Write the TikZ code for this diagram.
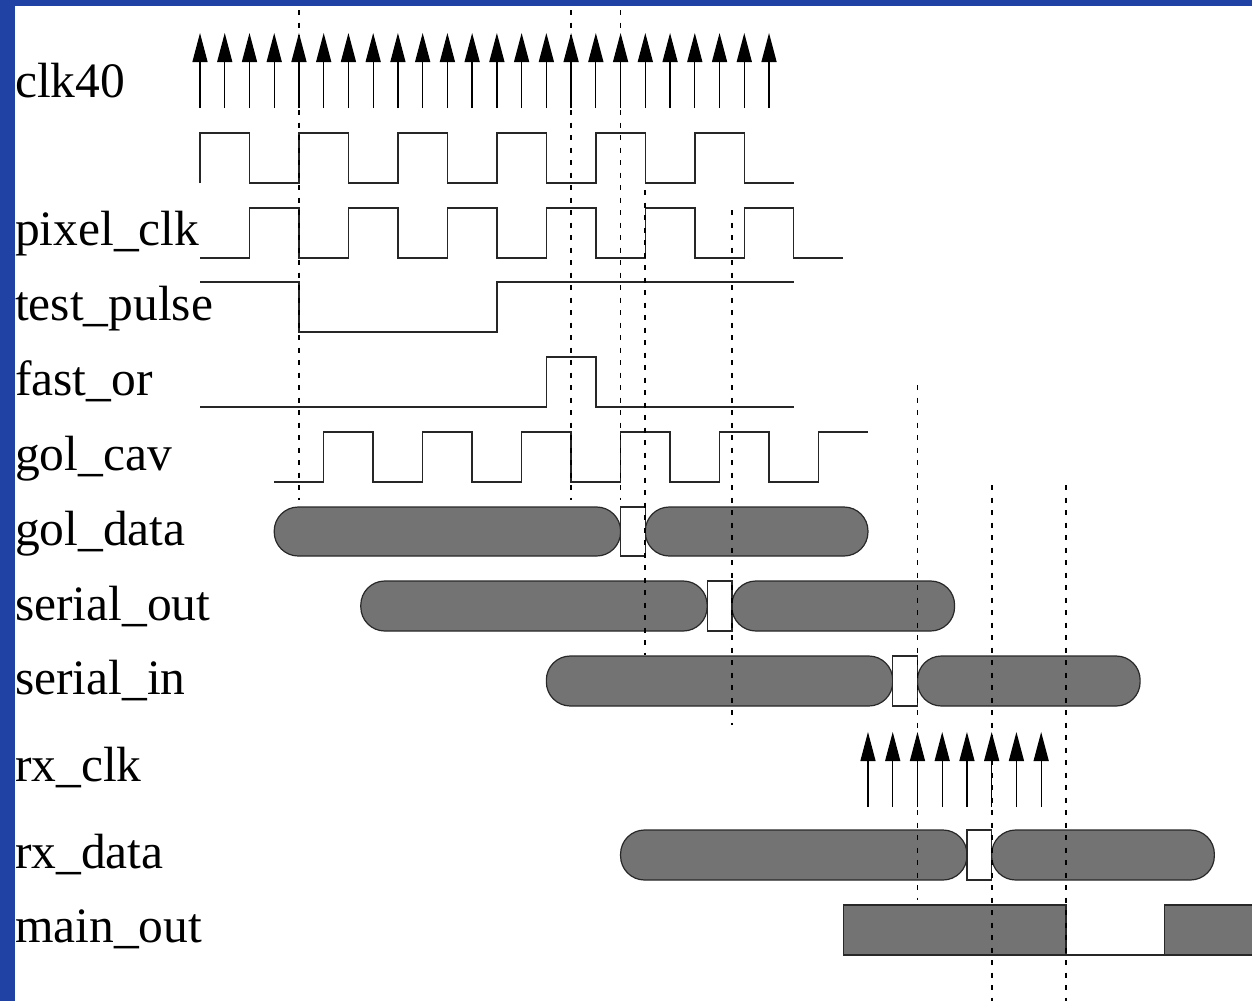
\documentclass[tikz,border=0pt]{standalone}
\usepackage{fontspec}
\setmainfont{Liberation Serif}
\usetikzlibrary{arrows.meta}
\definecolor{slideblue}{RGB}{33,66,165}
\definecolor{busgray}{RGB}{115,115,115}
\definecolor{busline}{RGB}{40,40,40}
\begin{document}
\begin{tikzpicture}[x=1pt,y=-1pt,
  lbl/.style={anchor=base west, inner sep=0pt, font=\fontsize{49.5}{55}\selectfont},
  sig/.style={line width=1.4pt, black!85},
  bus/.style={fill=busgray, draw=busline, line width=1.2pt, rounded corners=24pt},
  gapbox/.style={fill=white, draw=busline, line width=1.2pt},
  clkarr/.style={line width=1.3pt, -{Triangle[length=29pt,width=15pt]}},
  vline/.style={line width=1.7pt, dash pattern=on 5pt off 7.5pt}]
\useasboundingbox (0,0) rectangle (1252,1001);
\fill[white] (0,0) rectangle (1252,1001);
\fill[slideblue] (0,0) rectangle (1252,6);
\fill[slideblue] (0,0) rectangle (15,1001);

% labels
\node[lbl] (lclk40) at (15,97) {clk40};
\node[lbl] (lpix) at (15,245) {pixel\_clk};
\node[lbl] (ltest) at (15,320) {test\_pulse};
\node[lbl] (lfast) at (15,395) {fast\_or};
\node[lbl] (lcav) at (15,470) {gol\_cav};
\node[lbl] (lgold) at (15,545) {gol\_data};
\node[lbl] (lsout) at (15,620) {serial\_out};
\node[lbl] (lsin) at (15,694) {serial\_in};
\node[lbl] (lrxclk) at (15,781) {rx\_clk};
\node[lbl] (lrxd) at (15,868) {rx\_data};
\node[lbl] (lmain) at (15,942) {main\_out};

\begin{scope}[xshift=200pt, x=24.74pt, y=-1pt]
% clk40 arrows
\foreach \t in {0,...,23} \draw[clkarr] (\t,108) -- (\t,33);
% clk (unlabelled)
\draw[sig] (0,183) foreach \k in {0,4,...,20} { -- (\k,133) -- (\k+2,133) -- (\k+2,183) -- (\k+4,183) };
% pixel_clk
\draw[sig] (0,258) -- (2,258) foreach \k in {2,6,...,22} { -- (\k,208) -- (\k+2,208) -- (\k+2,258) -- (\k+4,258) };
% test_pulse
\draw[sig] (0,282) -- (4,282) -- (4,332) -- (12,332) -- (12,282) -- (24,282);
% fast_or
\draw[sig] (0,407) -- (14,407) -- (14,357) -- (16,357) -- (16,407) -- (24,407);
% gol_cav
\draw[sig] (3,482) foreach \k in {5,9,...,21} { -- (\k,482) -- (\k,432) -- (\k+2,432) -- (\k+2,482) } -- (25,482) -- (25,432) -- (27,432);
% gol_data
\draw[bus] (3,507) rectangle (17,556);
\draw[bus] (18,507) rectangle (27,556);
\draw[gapbox] (17,507) rectangle (18,556);
% serial_out
\draw[bus] (6.5,581) rectangle (20.5,631);
\draw[bus] (21.5,581) rectangle (30.5,631);
\draw[gapbox] (20.5,581) rectangle (21.5,631);
% serial_in
\draw[bus] (14,656) rectangle (28,706);
\draw[bus] (29,656) rectangle (38,706);
\draw[gapbox] (28,656) rectangle (29,706);
% rx_clk arrows
\foreach \t in {27,...,34} \draw[clkarr] (\t,807) -- (\t,732);
% rx_data
\draw[bus] (17,830) rectangle (31,880);
\draw[bus] (32,830) rectangle (41,880);
\draw[gapbox] (31,830) rectangle (32,880);
% main_out
\draw[fill=busgray, draw=busline, line width=1.2pt] (26,905) rectangle (35,955);
\draw[sig] (35,955) -- (39,955);
\fill[busgray] (39,905) rectangle (42.6,955);
\draw[busline, line width=1.2pt] (42.6,905) -- (39,905) -- (39,955) -- (42.6,955);
% dashed guide lines
\draw[vline] (4,10) -- (4,500);
\draw[vline] (15,10) -- (15,500);
\draw[vline] (17,10) -- (17,500);
\draw[vline] (18,190) -- (18,655);
\draw[vline] (21.5,210) -- (21.5,725);
\draw[vline] (29,385) -- (29,900);
\draw[vline] (32,485) -- (32,1001);
\draw[vline] (35,485) -- (35,1001);
\end{scope}
\end{tikzpicture}
\end{document}
